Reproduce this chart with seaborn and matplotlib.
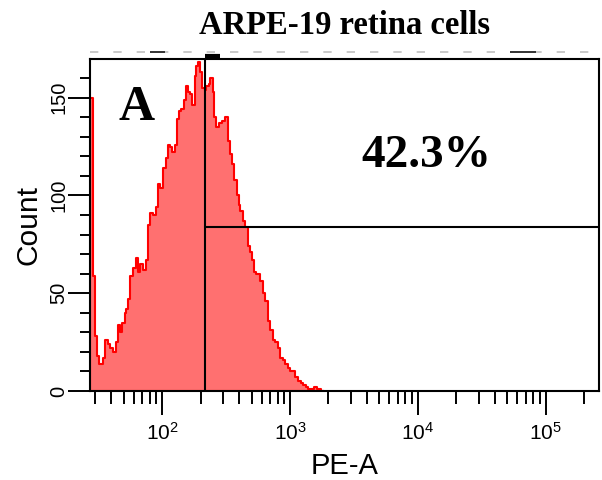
import numpy as np
import pandas as pd
import matplotlib
matplotlib.use("Agg")
import matplotlib.pyplot as plt
import matplotlib.transforms as mtransforms
from matplotlib import font_manager
from matplotlib.ticker import FixedLocator, LogLocator, NullFormatter
import seaborn as sns

# ---------------- data ----------------
bin_edges_pe = [27.2, 28.6, 29.6, 30.7, 31.9, 34.2, 35.9, 37.3, 39.1, 41.0, 43.1, 44.9,
                46.3, 48.6, 50.7, 52.2, 54.1, 56.1, 58.9, 61.8, 64.4, 67.2, 70.5, 74.0,
                77.7, 80.5, 84.5, 88.6, 92.5, 96.4, 101.2, 106.2, 110.8, 115.5, 119.8,
                124.9, 130.3, 135.1, 140.9, 147.0, 152.4, 159.0, 165.9, 171.9, 179.3,
                184.8, 191.6, 198.6, 205.9, 214.8, 221.4, 230.9, 237.9, 249.7, 255.8,
                265.2, 276.6, 293.8, 311.9, 325.3, 337.4, 351.9, 367.1, 385.2, 397.0,
                409.1, 429.3, 447.7, 467.0, 484.2, 505.0, 526.7, 546.1, 587.1, 616.2,
                642.6, 670.3, 703.4, 737.9, 769.7, 802.8, 842.5, 884.0, 922.0, 961.6,
                1009, 1059, 1104, 1152, 1209, 1269, 1323, 1380, 1448, 1538, 1614, 1683,
                1756, 1842]
counts = [150, 59, 28, 18, 14, 17, 26, 24, 22, 20, 25, 34, 30, 35, 40, 42, 47, 59, 63,
          68, 61, 65, 62, 67, 85, 91, 90, 94, 106, 104, 114, 119, 126, 125, 122, 126,
          139, 143, 144, 149, 156, 153, 152, 146, 161, 166, 168, 163, 155,
          154, 156, 157, 160, 153, 140, 135, 137, 138, 140, 128, 121, 116, 108, 100,
          95, 92, 87, 84, 74, 71, 67, 61, 60, 56, 50, 46, 36, 31, 26, 25, 22, 17, 16,
          14, 12, 10, 10, 7, 5, 4, 3, 2, 1, 1, 2, 1, 1, 0.2]

gate_pe = 214.8          # vertical gate position (PE-A)
gate_level = 83.8        # horizontal gate bar height (Count)
gate_label = "42.3%"
panel_label = "A"
title = "ARPE-19 retina cells"
x_major = [1e2, 1e3, 1e4, 1e5]
x_major_labels = [r"$\mathregular{10^{2}}$", r"$\mathregular{10^{3}}$",
                  r"$\mathregular{10^{4}}$", r"$\mathregular{10^{5}}$"]
y_major = [0, 50, 100, 150]
y_major_labels = ["0", "50", "100", "150"]
x_range = (27.2, 262144)
y_range = (0, 170)

# ---------------- style ----------------
sns.set_style("ticks")
names = {f.name for f in font_manager.fontManager.ttflist}
narrow = "Liberation Sans Narrow" in names
sans = "Liberation Sans Narrow" if narrow else "Liberation Sans"
k = 1.2 if narrow else 1.0
plt.rcParams["font.family"] = [sans, "DejaVu Sans"]
plt.rcParams["mathtext.default"] = "regular"
for key in ["text.color", "axes.labelcolor", "xtick.color", "ytick.color",
            "axes.edgecolor"]:
    plt.rcParams[key] = "black"
serif = ["Liberation Serif", "DejaVu Serif"]

fig = plt.figure(figsize=(6.02, 4.8), dpi=100)
ax = fig.add_axes([90 / 602, 1 - 391 / 480, 509 / 602, 332.5 / 480])

edges = np.asarray(bin_edges_pe, dtype=float)
centers = np.sqrt(edges[:-1] * edges[1:])
df = pd.DataFrame({"PE-A": centers, "Count": counts})

sns.histplot(data=df, x="PE-A", weights="Count", bins=list(np.log10(edges)),
             log_scale=True, element="step", fill=True,
             facecolor="#ff7070", edgecolor="#ff0000", linewidth=1.5, ax=ax)

ax.set_xlim(*x_range)
ax.set_ylim(*y_range)

# gate
ax.axvline(gate_pe, color="black", lw=1.5, zorder=5)
ax.plot([gate_pe, x_range[1]], [gate_level, gate_level], color="black", lw=1.5, zorder=5)
blend = mtransforms.blended_transform_factory(ax.transData, ax.transAxes)
ax.plot([gate_pe, gate_pe * 1.33], [1.008, 1.008], transform=blend, color="black",
        lw=3, clip_on=False, solid_capstyle="butt")
# faint dashed artifact row above the frame
ax.plot([0, 1], [1.02, 1.02], transform=ax.transAxes, color="#c0c0c0", lw=1.2,
        ls=(0, (5, 9)), clip_on=False)
ax.plot([0.118, 0.147], [1.02, 1.02], transform=ax.transAxes, color="#333333", lw=1.4,
        clip_on=False, solid_capstyle="butt")
ax.plot([0.825, 0.877], [1.02, 1.02], transform=ax.transAxes, color="#333333", lw=1.4,
        clip_on=False, solid_capstyle="butt")

# ticks
ax.xaxis.set_major_locator(FixedLocator(x_major))
ax.xaxis.set_minor_locator(LogLocator(base=10, subs=np.arange(2, 10), numticks=20))
ax.xaxis.set_minor_formatter(NullFormatter())
ax.set_xticks(x_major)
ax.set_xticklabels(x_major_labels, fontsize=15 * k)
ax.set_yticks(y_major)
ax.set_yticks(np.arange(10, 170, 10), minor=True)
ax.set_yticklabels(y_major_labels, rotation=90, va="center", fontsize=14.5 * k)

ax.tick_params(axis="x", which="major", length=17, width=1.4, pad=5)
ax.tick_params(axis="x", which="minor", length=9.4, width=1.4)
ax.tick_params(axis="y", which="major", length=15.6, width=1.4, pad=0)
ax.tick_params(axis="y", which="minor", length=7.2, width=1.4)

for s in ax.spines.values():
    s.set_visible(True)
    s.set_linewidth(1.5)
    s.set_color("black")
    s.set_zorder(6)

ax.set_xlabel("PE-A", fontsize=21 * k, labelpad=6)
ax.set_ylabel("Count", fontsize=21.5 * k, labelpad=5)
ax.set_title(title, family=serif, fontweight="bold", fontsize=23.5, pad=18)

fig.text(137 / 602, 1 - 120 / 480, panel_label, family=serif, fontweight="bold",
         fontsize=36, ha="center", va="baseline")
fig.text(426.5 / 602, 1 - 167 / 480, gate_label, family=serif, fontweight="bold",
         fontsize=34, ha="center", va="baseline")

fig.savefig("out.png", dpi=100)
